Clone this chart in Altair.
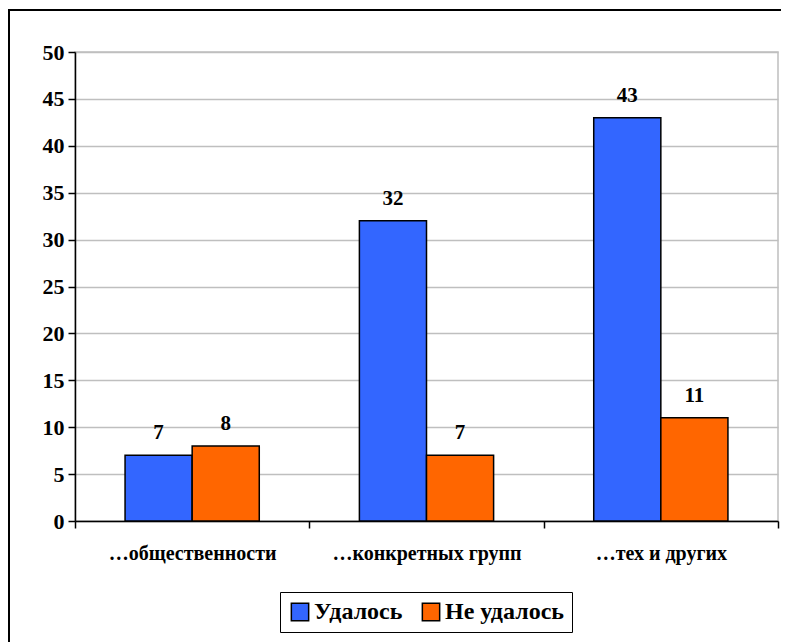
import altair as alt
import pandas as pd

categories = ["…общественности", "…конкретных групп", "…тех и других"]
series = ["Удалось", "Не удалось"]
udalos = [7, 32, 43]
ne_udalos = [8, 7, 11]

rows = []
for i, c in enumerate(categories):
    rows.append({"cat": c, "series": series[0], "value": udalos[i]})
    rows.append({"cat": c, "series": series[1], "value": ne_udalos[i]})
df = pd.DataFrame(rows)

FONT = "'Liberation Serif', serif"
W, H = 703, 469

x = alt.X("cat:N", sort=categories, title=None,
          scale=alt.Scale(paddingInner=0, paddingOuter=0),
          axis=alt.Axis(labelAngle=0, labelFont=FONT, labelFontSize=20,
                        labelFontWeight="bold", labelColor="black",
                        labelLimit=400, labelPadding=15, tickBand="extent",
                        tickSize=7, tickColor="black", tickWidth=1.5,
                        domainColor="black", domainWidth=1.5, grid=False))
xo = alt.XOffset("series:N", sort=series,
                 scale=alt.Scale(paddingInner=0, paddingOuter=0.746))
y = alt.Y("value:Q", title=None,
          scale=alt.Scale(domain=[0, 50], nice=False),
          axis=alt.Axis(values=list(range(0, 51, 5)), labelFont=FONT,
                        labelFontSize=22, labelFontWeight="bold",
                        labelColor="black", labelPadding=4, tickSize=7,
                        tickColor="black", tickWidth=1.5, domainColor="black",
                        domainWidth=1.5, gridColor="#BFBFBF", gridWidth=1.5))
color = alt.Color("series:N", sort=series,
                  scale=alt.Scale(domain=series, range=["#3366FF", "#FF6600"]),
                  legend=alt.Legend(title=None, orient="none", legendX=205,
                                    legendY=540, direction="horizontal",
                                    symbolType="square", symbolSize=300,
                                    symbolStrokeColor="black",
                                    symbolStrokeWidth=1.5, symbolOpacity=1,
                                    labelFont=FONT, labelFontSize=24,
                                    labelFontWeight="bold", labelColor="black",
                                    labelLimit=400, labelOffset=2,
                                    columnPadding=16, strokeColor="black",
                                    padding=8, cornerRadius=0))

base = alt.Chart(df)

frame = base.mark_rect(fill=None, stroke="black", strokeWidth=2).encode(
    x=alt.value(-66), x2=alt.value(710), y=alt.value(-42), y2=alt.value(600))

bars = base.mark_bar(stroke="black", strokeWidth=1.5).encode(
    x=x, xOffset=xo, y=y, color=color)

labels = base.mark_text(font=FONT, fontSize=21, fontWeight="bold",
                        color="black", baseline="alphabetic", dy=-16).encode(
    x=x, xOffset=xo, y=y, text="value:Q")

chart = alt.layer(frame, bars, labels).properties(
    width=W, height=H,
    autosize=alt.AutoSizeParams(type="none"),
    padding={"left": 67, "top": 44, "right": 3, "bottom": 130},
).configure_view(stroke="#BFBFBF", strokeWidth=1.5)

chart.save("out.html", embed_options={"renderer": "svg", "actions": False})
